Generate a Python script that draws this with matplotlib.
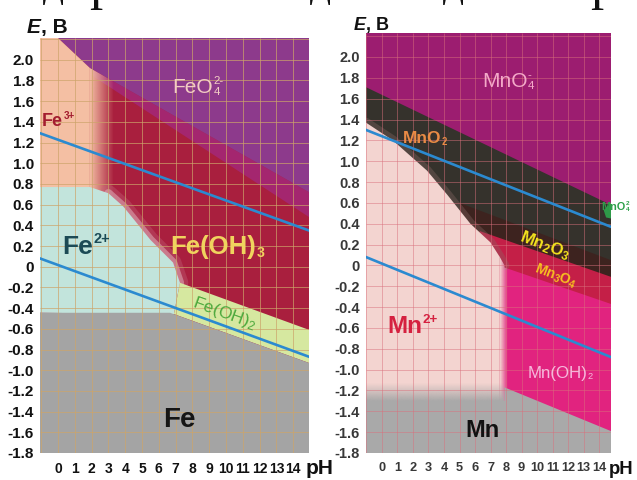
import numpy as np
import matplotlib
matplotlib.use('Agg')
import matplotlib.pyplot as plt
from matplotlib.patches import Polygon
from matplotlib.colors import to_rgb

SANS = 'Liberation Sans'
SERIF = 'Liberation Serif'

plt.rcParams['mathtext.fontset'] = 'custom'
plt.rcParams['mathtext.rm'] = SANS
plt.rcParams['mathtext.bf'] = SANS + ':bold'
plt.rcParams['mathtext.it'] = SANS + ':italic'
plt.rcParams['mathtext.sf'] = SANS

# ---------------- data (pH, E in volts) ----------------
ph_ticks = list(range(0, 15))
e_ticks = [2.0, 1.8, 1.6, 1.4, 1.2, 1.0, 0.8, 0.6, 0.4, 0.2, 0.0,
           -0.2, -0.4, -0.6, -0.8, -1.0, -1.2, -1.4, -1.6, -1.8]
e_tick_labels = ['2.0', '1.8', '1.6', '1.4', '1.2', '1.0', '0.8', '0.6', '0.4', '0.2', '0',
                 '-0.2', '-0.4', '-0.6', '-0.8', '-1.0', '-1.2', '-1.4', '-1.6', '-1.8']
grid_ph = list(range(-1, 15))
grid_e = [round(-1.8 + 0.2 * i, 1) for i in range(21)]

# Fe diagram
fe_ph_lim = (-1.07, 14.94)
fe_e_lim = (-1.8, 2.21)
fe_o2_ph, fe_o2_E = [-1.07, 14.94], [1.29, 0.35]
fe_h2_ph, fe_h2_E = [-1.07, 14.94], [0.08, -0.87]
feo4_low_ph, feo4_low_E = [0.0, 1.9, 14.94], [2.21, 1.92, 0.72]
band_low_ph, band_low_E = [1.9, 14.94], [1.86, 0.48]
fe3_right_ph = 1.9
fe2_top_ph = [-1.07, 1.9, 3.0, 3.9, 5.5, 6.85, 7.26]
fe2_top_E = [0.77, 0.77, 0.71, 0.58, 0.26, 0.04, -0.155]
feoh2_top_ph, feoh2_top_E = [7.26, 14.94], [-0.155, -0.61]
feoh2_left_ph = 6.9
fe_metal_ph, fe_metal_E = [-1.07, 6.67, 14.94], [-0.445, -0.445, -0.93]

# Mn diagram
mn_ph_lim = (-1.03, 14.77)
mn_e_lim = (-1.8, 2.23)
mn_o2_ph, mn_o2_E = [-1.03, 14.77], [1.30, 0.37]
mn_h2_ph, mn_h2_E = [-1.03, 14.77], [0.08, -0.88]
mno4_low_ph, mno4_low_E = [-1.03, 14.77], [1.71, 0.58]
mn2o3_top_ph, mn2o3_top_E = [5.0, 14.77], [0.60, 0.05]
mn3o4_top_ph, mn3o4_top_E = [6.3, 14.77], [0.33, -0.11]
mnoh2_top_ph, mnoh2_top_E = [7.9, 14.77], [-0.02, -0.37]
mn2_top_ph = [-1.03, 0.7, 2.9, 4.2, 5.7, 7.0, 7.6, 7.9]
mn2_top_E = [1.37, 1.20, 0.91, 0.68, 0.40, 0.22, 0.08, 0.0]
mn_metal_ph, mn_metal_E = [-1.03, 7.9, 7.9, 14.77], [-1.30, -1.30, -1.17, -1.59]
mno42_ph, mno42_E = [14.3, 14.77, 14.77, 14.45], [0.53, 0.60, 0.45, 0.46]

# ---------------- colours ----------------
C_PEACH, C_CYAN, C_RED, C_PURP = '#f4bfa3', '#c2e4dc', '#a91f3e', '#8d3a8c'
C_BAND, C_GREEN, C_GRAY, C_BLUE = '#a4266f', '#d6e8a0', '#a4a4a4', '#2b8ad0'
M_PURP, M_DARK, M_DARK2, M_RED = '#9c1d70', '#35322c', '#3d231f', '#c41f47'
M_PINK, M_LIGHT, M_GRAY = '#e1237f', '#f3d4d0', '#a9a9a9'

fig = plt.figure(figsize=(6.37, 4.8), dpi=100)
axL = fig.add_axes([40 / 637, 27 / 480, 269 / 637, 415 / 480])
axR = fig.add_axes([366 / 637, 27 / 480, 245 / 637, 420 / 480])


def poly(ax, pts, color, z, **kw):
    p = Polygon(pts, closed=True, facecolor=color, edgecolor='none', zorder=z, **kw)
    ax.add_patch(p)
    return p


def gradient(ax, color, ext, a0, a1, clip_pts, z, vertical=False):
    n = 256
    rgba = np.zeros((n, 1, 4)) if vertical else np.zeros((1, n, 4))
    rgba[..., :3] = to_rgb(color)
    rgba[..., 3] = np.linspace(a0, a1, n).reshape(rgba.shape[:2])
    im = ax.imshow(rgba, extent=ext, origin='lower', aspect='auto',
                   interpolation='bilinear', zorder=z)
    im.set_clip_path(Polygon(clip_pts, closed=True, transform=ax.transData))


def chem(ax, x, y, base, size, color, weight='bold', sub=None, sup=None, ss=0.55, **kw):
    t = ax.text(x, y, base, fontsize=size, color=color, fontweight=weight, family=SANS,
                va='baseline', ha='left', zorder=12, **kw)
    if sub:
        ax.annotate(sub, xy=(1, 0), xycoords=t, xytext=(0.3, 0.09 * size),
                    textcoords='offset points', va='baseline', ha='left',
                    fontsize=size * ss, color=color, fontweight=weight, family=SANS,
                    zorder=12, annotation_clip=False)
    if sup:
        ax.annotate(sup, xy=(1, 0), xycoords=t, xytext=(0.3, 0.62 * size),
                    textcoords='offset points', va='baseline', ha='left',
                    fontsize=size * ss, color=color, fontweight=weight, family=SANS,
                    zorder=12, annotation_clip=False)
    return t


# ================= Fe panel =================
ax = axL
x0, x1 = fe_ph_lim
y0, y1 = fe_e_lim
poly(ax, [(x0, y0), (x1, y0), (x1, y1), (x0, y1)], C_RED, 1)
poly(ax, [(band_low_ph[0], feo4_low_E[1]), (x1, feo4_low_E[2]),
          (x1, band_low_E[1]), (band_low_ph[0], band_low_E[0])], C_BAND, 2)
poly(ax, list(zip(feo4_low_ph, feo4_low_E)) + [(x1, y1)], C_PURP, 3)
poly(ax, [(x0, 0.4), (x0, y1), (feo4_low_ph[0], y1), (fe3_right_ph, feo4_low_E[1]),
          (fe3_right_ph, 0.4)], C_PEACH, 4)
gradient(ax, C_PEACH, (fe3_right_ph, 3.3, 0.4, 2.0), 1.0, 0.0,
         [(fe3_right_ph, 0.4), (fe3_right_ph, 1.92), (3.3, 1.79), (3.3, 0.4)], 5)
# soft fringe along Fe2+ / Fe(OH)3 boundary
ax.plot(fe2_top_ph[2:], fe2_top_E[2:], color='#c4687f', lw=12, alpha=0.35, zorder=6,
        solid_capstyle='round')
ax.plot(fe2_top_ph[2:], fe2_top_E[2:], color='#dba7b3', lw=6, alpha=0.6, zorder=6,
        solid_capstyle='round')
poly(ax, list(zip(fe2_top_ph, fe2_top_E)) + [(feoh2_left_ph, -0.458), (x0, fe_metal_E[0])],
     C_CYAN, 7)
poly(ax, list(zip(feoh2_top_ph, feoh2_top_E)) + [(x1, fe_metal_E[2]), (feoh2_left_ph, -0.458)],
     C_GREEN, 8)
poly(ax, list(zip(fe_metal_ph, fe_metal_E)) + [(x1, y0), (x0, y0)], C_GRAY, 9)
ax.vlines(grid_ph, y0, y1, colors='#cda46a', lw=0.7, alpha=0.7, zorder=10)
ax.hlines(grid_e, x0, x1, colors='#cda46a', lw=0.7, alpha=0.7, zorder=10)
ax.plot(fe_o2_ph, fe_o2_E, color=C_BLUE, lw=1.9, zorder=11)
ax.plot(fe_h2_ph, fe_h2_E, color=C_BLUE, lw=1.9, zorder=11)

chem(ax, -0.95, 1.36, 'Fe', 13, '#a31d2f', sup='3+')
chem(ax, 6.8, 1.68, 'FeO', 15, '#f2cbc3', weight='normal', sub='4', sup='2-')
chem(ax, 0.24, 0.12, 'Fe', 19, '#1b4a55', sup='2+')
chem(ax, 6.67, 0.12, 'Fe(OH)', 18.5, '#f0d35e', sub='3')
ax.text(9.9, -0.45, r'Fe(OH)$_{2}$', color='#4ca83c', fontsize=12.5, family=SANS,
        rotation=-20, ha='center', va='center', rotation_mode='anchor', zorder=12)
chem(ax, 6.25, -1.55, 'Fe', 20, '#151515')

# ================= Mn panel =================
ax = axR
x0, x1 = mn_ph_lim
y0, y1 = mn_e_lim
poly(ax, [(x0, y0), (x1, y0), (x1, y1), (x0, y1)], M_PURP, 1)
poly(ax, list(zip(mno4_low_ph, mno4_low_E)) + [(x1, y0), (x0, y0)], M_DARK, 2)
poly(ax, list(zip(mn2o3_top_ph, mn2o3_top_E)) + [(x1, y0), (mn2o3_top_ph[0], y0)], M_DARK2, 3)
poly(ax, list(zip(mn3o4_top_ph, mn3o4_top_E)) + [(x1, y0), (mn3o4_top_ph[0], y0)], M_RED, 4)
poly(ax, [(mn2_top_ph[-2], mn2_top_E[-2]), (mn2_top_ph[-1], mn2_top_E[-1])] +
     list(zip(mnoh2_top_ph, mnoh2_top_E)) + [(x1, y0), (mn2_top_ph[-2], y0)], M_PINK, 5)
ax.plot(mn2_top_ph, mn2_top_E, color='#8a6a66', lw=7, alpha=0.35, zorder=6,
        solid_capstyle='round')
poly(ax, list(zip(mn2_top_ph[:-1], mn2_top_E[:-1])) + [(mn2_top_ph[-2], y0), (x0, y0)],
     M_LIGHT, 7)
gradient(ax, M_LIGHT, (mn2_top_ph[-2], 8.1, y0, 0.1), 1.0, 0.0,
         [(mn2_top_ph[-2], mn2_top_E[-2]), (mn2_top_ph[-1], mn2_top_E[-1]),
          (mnoh2_top_ph[0], mnoh2_top_E[0]), (8.1, -0.03), (8.1, y0), (mn2_top_ph[-2], y0)], 8)
poly(ax, list(zip(mn_metal_ph, mn_metal_E)) + [(x1, y0), (x0, y0)], M_GRAY, 9)
gradient(ax, M_GRAY, (x0, mn_metal_ph[1], -1.30, -1.13), 1.0, 0.0,
         [(x0, -1.30), (mn_metal_ph[1], -1.30), (mn_metal_ph[1], -1.13), (x0, -1.13)], 9,
         vertical=True)
poly(ax, list(zip(mno42_ph, mno42_E)), '#2e9a48', 9)
ax.vlines(grid_ph, y0, y1, colors='#d9707c', lw=0.7, alpha=0.5, zorder=10)
ax.hlines(grid_e, x0, x1, colors='#d9707c', lw=0.7, alpha=0.5, zorder=10)
ax.plot(mn_o2_ph, mn_o2_E, color=C_BLUE, lw=1.9, zorder=11)
ax.plot(mn_h2_ph, mn_h2_E, color=C_BLUE, lw=1.9, zorder=11)

chem(ax, 6.45, 1.71, 'MnO', 15, '#f3a9c8', weight='normal', sub='4', sup='-')
chem(ax, 1.35, 1.17, 'MnO', 12.5, '#e98b45', sub='2')
chem(ax, 14.15, 0.53, 'MnO', 7.8, '#2ea04a', sub='4', sup='2', ss=0.6, clip_on=False)
ax.text(10.5, 0.19, r'Mn$_{\mathbf{2}}$O$_{\mathbf{3}}$', color='#f4e31e', fontsize=12,
        fontweight='bold', family=SANS, rotation=-21, ha='center', va='center',
        rotation_mode='anchor', zorder=12)
ax.text(11.2, -0.10, r'Mn$_{\mathbf{3}}$O$_{\mathbf{4}}$', color='#f7c01f', fontsize=10,
        fontweight='bold', family=SANS, rotation=-21, ha='center', va='center',
        rotation_mode='anchor', zorder=12)
chem(ax, 0.32, -0.65, 'Mn', 17.5, '#d52140', sup='2+')
chem(ax, 9.4, -1.08, 'Mn(OH)', 12.2, '#f7b8dd', weight='normal', sub='2')
chem(ax, 5.4, -1.65, 'Mn', 17, '#111111')

# ================= axes styling =================
for ax, lims, col, xs, ys in [(axL, (fe_ph_lim, fe_e_lim), '#111111', 10, 11),
                              (axR, (mn_ph_lim, mn_e_lim), '#383838', 9.2, 10.5)]:
    ax.set_xlim(*lims[0])
    ax.set_ylim(*lims[1])
    ax.set_xticks(ph_ticks)
    ax.set_xticklabels([str(t) for t in ph_ticks], family=SANS, fontweight='bold',
                       fontsize=xs, color=col)
    ax.set_yticks(e_ticks)
    ax.set_yticklabels(e_tick_labels, family=SANS, fontweight='bold', fontsize=ys, color=col)
    ax.tick_params(axis='both', length=0)
    ax.tick_params(axis='x', pad=6.5)
    ax.tick_params(axis='y', pad=4.5)
    for s in ax.spines.values():
        s.set_visible(False)

# axis titles
for (px, py, fs) in [(27, 33, 15), (354, 30, 13)]:
    tE = fig.text(px / 637, 1 - py / 480, 'E', fontsize=fs, fontweight='bold', style='italic',
                  family=SANS, color='#111111')
    fig.add_artist(plt.Annotation(', B', xy=(1, 0), xycoords=tE, va='bottom', ha='left',
                                  fontsize=fs, fontweight='bold', family=SANS,
                                  color='#111111', annotation_clip=False))
for (px, fs) in [(306, 15), (609, 13.3)]:
    fig.text(px / 637, 1 - 474 / 480, 'pH', fontsize=fs, fontweight='bold', family=SANS,
             color='#111111')

# clipped line of document text at very top (only its lowest parts are visible)
for gx, g, fs, up in [(53, 'д', 30, 3), (102, 'р', 38, 1), (320, 'д', 30, 3),
                      (453, 'д', 30, 3), (603, 'р', 38, 1)]:
    fig.text(gx / 637, 1 + up / 480, g, fontsize=fs, family=SERIF, color='#111111',
             va='baseline', ha='center')

fig.savefig('out.png', dpi=100)
